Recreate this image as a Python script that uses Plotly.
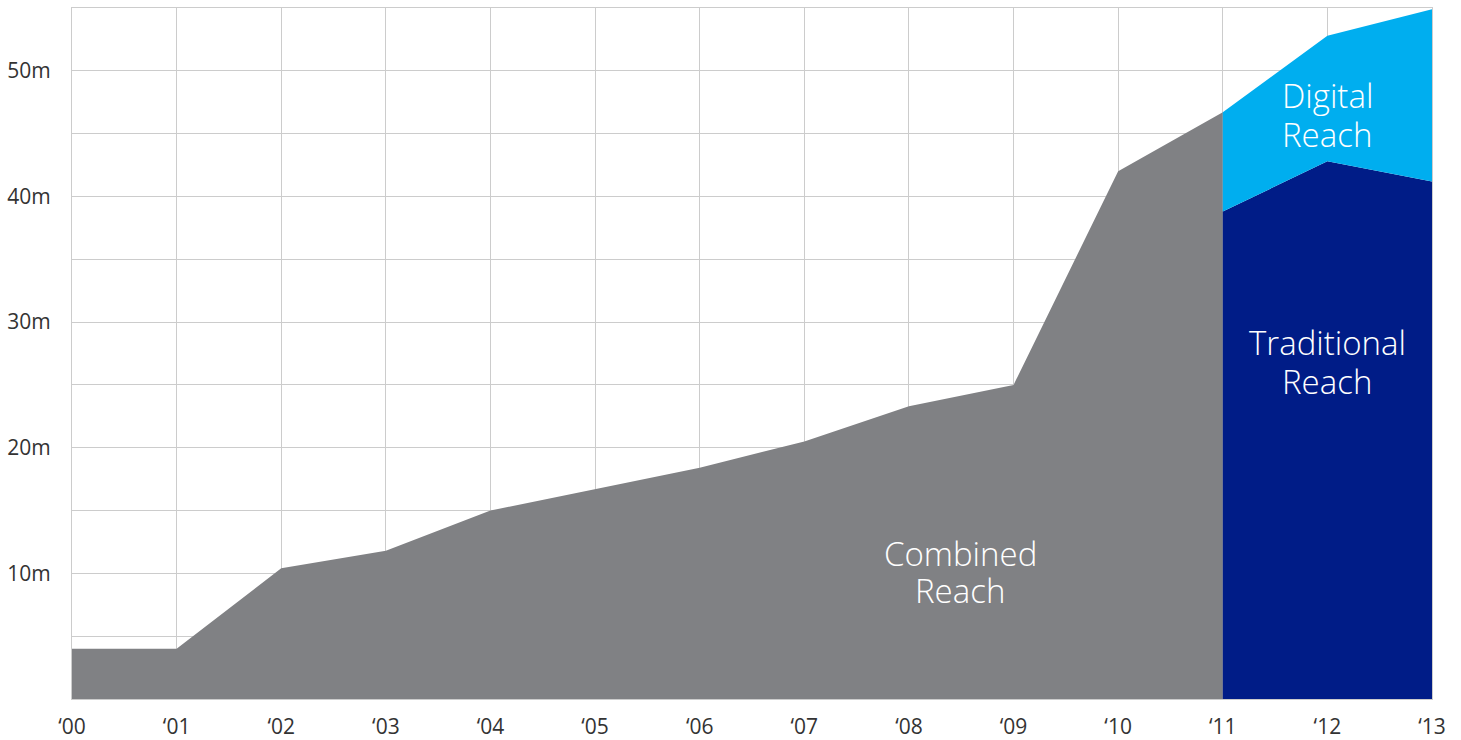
import plotly.graph_objects as go

# Audience reach in millions by year
years = list(range(0, 14))
year_labels = ["\u201800", "\u201801", "\u201802", "\u201803", "\u201804", "\u201805", "\u201806",
               "\u201807", "\u201808", "\u201809", "\u201810", "\u201811", "\u201812", "\u201813"]

combined_years = [0, 1, 2, 3, 4, 5, 6, 7, 8, 9, 10, 11]
combined_reach = [4.0, 4.0, 10.4, 11.8, 15.0, 16.7, 18.4, 20.5, 23.3, 25.0, 42.0, 46.7]

split_years = [11, 12, 13]
traditional_reach = [38.8, 42.8, 41.2]
digital_reach = [7.9, 10.0, 13.7]
total_reach = [t + d for t, d in zip(traditional_reach, digital_reach)]

y_tickvals = [0, 5, 10, 15, 20, 25, 30, 35, 40, 45, 50, 55]
y_ticktext = ["", "", "10m", "", "20m", "", "30m", "", "40m", "", "50m", ""]

# In-area series labels, one line each (x in years, y in millions)
label_lines = [
    (8.49, 11.6, "Combined"), (8.49, 8.6, "Reach"),
    (12.0, 48.0, "Digital"), (12.0, 44.9, "Reach"),
    (12.0, 28.4, "Traditional"), (12.0, 25.3, "Reach"),
]

GRAY = "#808184"
NAVY = "#001C87"
CYAN = "#00AEEF"
GRID = "#CCCCCC"

fig = go.Figure()

fig.add_trace(go.Scatter(
    x=combined_years, y=combined_reach, mode="lines", fill="tozeroy",
    line=dict(width=0, color=GRAY), fillcolor=GRAY, hoverinfo="skip",
))
fig.add_trace(go.Scatter(
    x=split_years, y=traditional_reach, mode="lines", fill="tozeroy",
    line=dict(width=0, color=NAVY), fillcolor=NAVY, hoverinfo="skip",
))
fig.add_trace(go.Scatter(
    x=split_years, y=total_reach, mode="lines", fill="tonexty",
    line=dict(width=0, color=CYAN), fillcolor=CYAN, hoverinfo="skip",
))

label_font = dict(family="Open Sans", size=33, color="white", weight=300)
for lx, ly, txt in label_lines:
    fig.add_annotation(x=lx, y=ly, text=txt, showarrow=False, font=label_font)

fig.update_layout(
    width=1461, height=740,
    margin=dict(l=72, r=29, t=8, b=41),
    paper_bgcolor="white", plot_bgcolor="white",
    showlegend=False,
    font=dict(family="Open Sans", color="#333333", size=21),
)
fig.update_xaxes(
    range=[0, 13], tickvals=years, ticktext=year_labels,
    showgrid=True, gridcolor=GRID, gridwidth=1,
    showline=True, linecolor=GRID, mirror=True,
    zeroline=False, ticks="", ticklabelstandoff=9, automargin=False,
    tickfont=dict(size=21, color="#333333"),
)
fig.update_yaxes(
    range=[0, 55], tickvals=y_tickvals, ticktext=y_ticktext,
    showgrid=True, gridcolor=GRID, gridwidth=1,
    showline=True, linecolor=GRID, mirror=True,
    zeroline=False, ticks="", ticklabelstandoff=16, automargin=False,
    tickfont=dict(size=21, color="#333333"),
)

fig.write_html("out.html")
